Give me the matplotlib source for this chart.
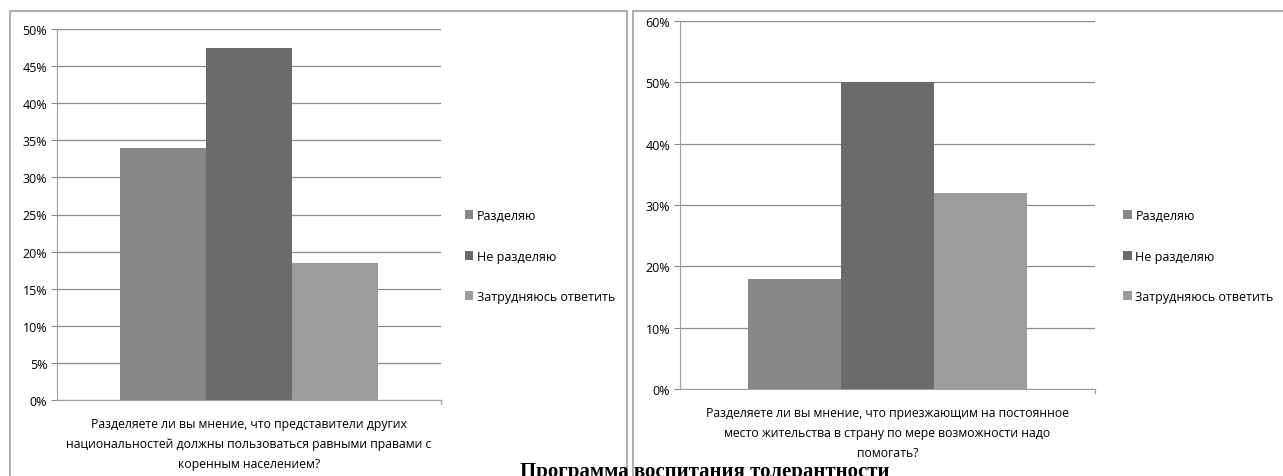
import matplotlib.pyplot as plt
from matplotlib.patches import Rectangle
from matplotlib.ticker import FuncFormatter

series = ['Разделяю', 'Не разделяю', 'Затрудняюсь ответить']
colors = ['#878787', '#6b6b6b', '#9c9c9c']

q1 = 'Разделяете ли вы мнение, что представители других\nнациональностей должны пользоваться равными правами с\nкоренным населением?'
v1 = [34, 47.5, 18.5]
ticks1 = [0, 5, 10, 15, 20, 25, 30, 35, 40, 45, 50]

q2 = 'Разделяете ли вы мнение, что приезжающим на постоянное\nместо жительства в страну по мере возможности надо\nпомогать?'
v2 = [18, 50, 32]
ticks2 = [0, 10, 20, 30, 40, 50, 60]

page_title = 'Программа воспитания толерантности'

W, H = 1283, 477
plt.rcParams['font.family'] = ['Open Sans', 'DejaVu Sans']
fig = plt.figure(figsize=(W / 100, H / 100), dpi=100)


def px_axes(x0, y0, x1, y1):
    return fig.add_axes([x0 / W, 1 - y1 / H, (x1 - x0) / W, (y1 - y0) / H])


def draw_chart(ax, values, ticks, question, legend_xy):
    width = 0.224
    for i, (v, c, name) in enumerate(zip(values, colors, series)):
        ax.bar((i - 1) * width, v, width=width, color=c, label=name, zorder=2)
    ax.set_xlim(-0.5, 0.5)
    ax.set_ylim(ticks[0], ticks[-1])
    ax.set_yticks(ticks)
    ax.yaxis.set_major_formatter(FuncFormatter(lambda v, p: f'{v:.0f}%'))
    ax.grid(axis='y', color='#8a8a8a', linewidth=0.9, zorder=0)
    ax.set_xticks([0])
    ax.set_xticklabels([question], fontsize=8.8, linespacing=1.7)
    ax.tick_params(axis='x', length=0, pad=12)
    ax.tick_params(axis='y', labelsize=9, color='#8a8a8a', length=4, pad=3)
    for s in ['top', 'right']:
        ax.spines[s].set_visible(False)
    ax.spines['left'].set_color('#a0a0a0')
    ax.spines['bottom'].set_color('#a0a0a0')
    ax.plot([1, 1], [0, -0.012], transform=ax.transAxes, color='#a0a0a0',
            linewidth=0.9, clip_on=False)
    ax.legend(loc='center left', bbox_to_anchor=legend_xy, frameon=False,
              fontsize=9, handlelength=0.7, handleheight=0.7,
              handletextpad=0.3, labelspacing=2.2)


# chart frames
fig.patches.append(Rectangle((10 / W, -0.05), 617 / W, 1.05 - 12 / H,
                             transform=fig.transFigure, fill=False,
                             edgecolor='#a0a0a0', linewidth=1.2))
fig.patches.append(Rectangle((633 / W, -0.05), 700 / W, 1.05 - 12 / H,
                             transform=fig.transFigure, fill=False,
                             edgecolor='#a0a0a0', linewidth=1.2))

ax1 = px_axes(57, 30, 441, 401)
draw_chart(ax1, v1, ticks1, q1, (1.032, 0.388))

ax2 = px_axes(680, 22, 1095, 390)
draw_chart(ax2, v2, ticks2, q2, (1.04, 0.361))

fig.text(520 / W, 1 - 462 / H, page_title, fontsize=15, fontweight='bold',
         family='Liberation Serif', va='top', ha='left')

fig.savefig('out.png', dpi=100)
